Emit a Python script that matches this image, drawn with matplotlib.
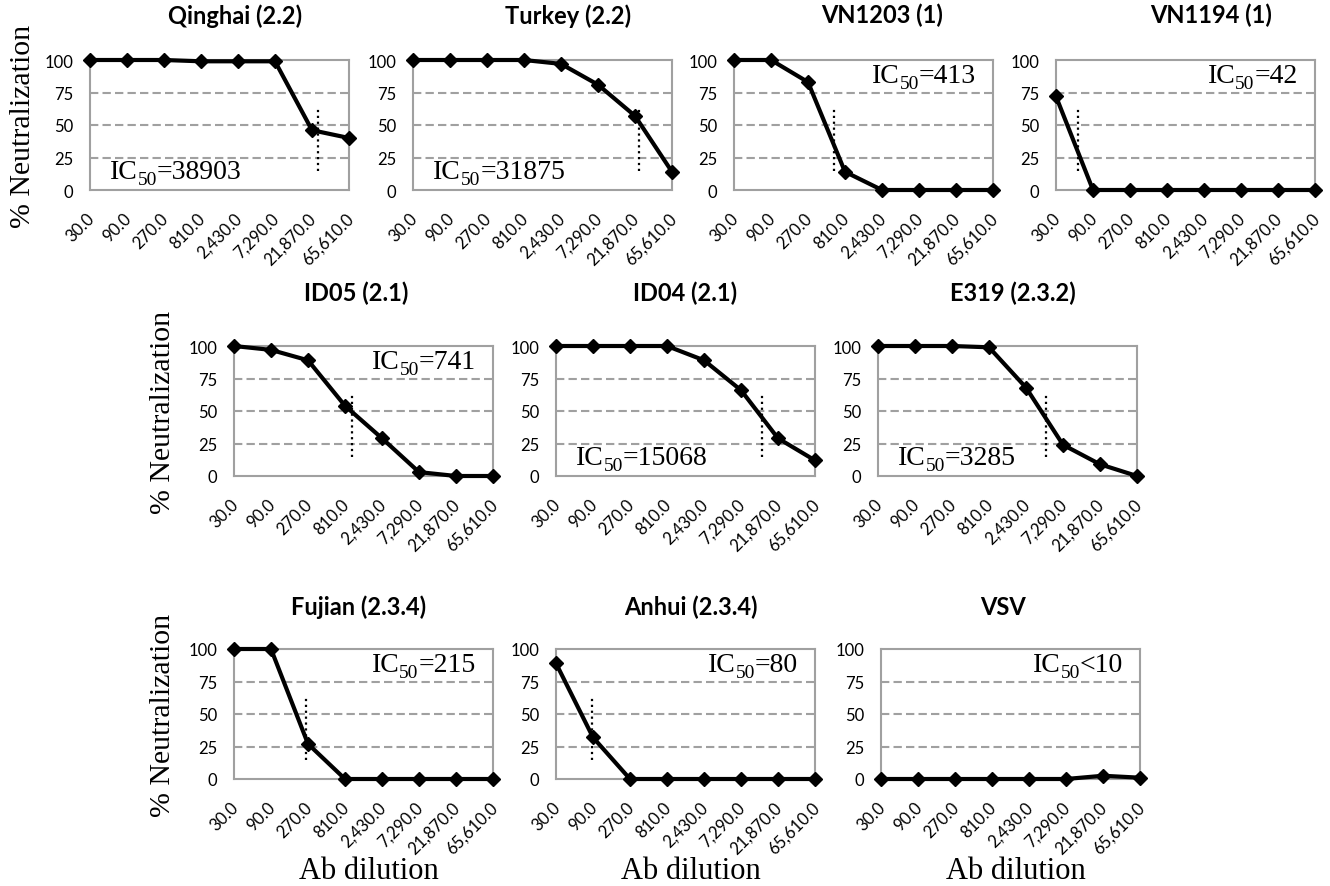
import numpy as np
import matplotlib.pyplot as plt
from matplotlib.transforms import ScaledTranslation

plt.rcParams['font.family'] = 'Lato'

# data
dilutions = ['30.0', '90.0', '270.0', '810.0', '2,430.0', '7,290.0', '21,870.0', '65,610.0']
titles = ['Qinghai (2.2)', 'Turkey (2.2)', 'VN1203 (1)', 'VN1194 (1)',
          'ID05 (2.1)', 'ID04 (2.1)', 'E319 (2.3.2)',
          'Fujian (2.3.4)', 'Anhui (2.3.4)', 'VSV']

qinghai = [100, 100, 100, 99, 99, 99, 46, 40]
turkey = [100, 100, 100, 100, 97, 81, 57, 14]
vn1203 = [100, 100, 83, 14, 0, 0, 0, 0]
vn1194 = [72, 0, 0, 0, 0, 0, 0, 0]
id05 = [100, 97, 89, 54, 29, 3, 0, 0]
id04 = [100, 100, 100, 100, 89, 66, 29, 12]
e319 = [100, 100, 100, 99, 68, 24, 9, 0]
fujian = [100, 100, 27, 0, 0, 0, 0, 0]
anhui = [89, 32, 0, 0, 0, 0, 0, 0]
vsv = [0, 0, 0, 0, 0, 0, 2.5, 1]
series = [qinghai, turkey, vn1203, vn1194, id05, id04, e319, fujian, anhui, vsv]

ic50_text = ['=38903', '=31875', '=413', '=42', '=741', '=15068', '=3285', '=215', '=80', '<10']
# dotted IC50 marks, in dilution-step units
ic50_mark = [6.16, 6.11, 2.70, 0.60, 3.19, 5.57, 4.54, 1.95, 0.98, None]

# layout in pixels of the 1330x887 figure
W, H = 1330, 887
AW, AH = 259, 130
lefts = [90, 413, 734, 1056, 234, 556, 878, 234, 556, 881]
tops = [61, 61, 61, 61, 347, 347, 347, 650, 650, 650]
rows = [0, 0, 0, 0, 1, 1, 1, 2, 2, 2]
title_x = [0.56, 0.60, 0.57, 0.60, 0.47, 0.50, 0.52, 0.48, 0.52, 0.47]
title_pad = [27, 33, 25]
ic50_top = [False, False, True, True, True, False, False, True, True, True]

SERIF = 'Liberation Serif'


def ic50_label(ax, rest, top):
    # IC + lowered 50 + rest, chained so the subscript sits like the original
    if top:
        t3 = ax.text(1 - 17 / AW, 0.83, rest, transform=ax.transAxes,
                     ha='right', va='baseline', family=SERIF, fontsize=20)
        t2 = ax.annotate('50', xy=(0, 0), xycoords=t3, xytext=(0, -3),
                         textcoords='offset points', ha='right', va='bottom',
                         family=SERIF, fontsize=14)
        ax.annotate('IC', xy=(0, 0), xycoords=(t2, t3), ha='right',
                    va='bottom', family=SERIF, fontsize=20)
    else:
        t1 = ax.text(20 / AW, 0.09, 'IC', transform=ax.transAxes,
                     ha='left', va='baseline', family=SERIF, fontsize=20)
        t2 = ax.annotate('50', xy=(1, 0), xycoords=t1, xytext=(0, -3),
                         textcoords='offset points', ha='left', va='bottom',
                         family=SERIF, fontsize=14)
        ax.annotate(rest, xy=(1, 0), xycoords=(t2, t1), ha='left',
                    va='bottom', family=SERIF, fontsize=20)


fig = plt.figure(figsize=(W / 100, H / 100), dpi=100)
shift = ScaledTranslation(-4 / 100, 0, fig.dpi_scale_trans)
x = np.arange(len(dilutions))

for i in range(len(series)):
    ax = fig.add_axes([lefts[i] / W, 1 - (tops[i] + AH) / H, AW / W, AH / H])
    ax.plot(x, series[i], color='black', lw=3, marker='D', ms=7.5,
            clip_on=False, zorder=5)
    if ic50_mark[i] is not None:
        ax.plot([ic50_mark[i], ic50_mark[i]], [15, 62], color='black',
                lw=1.6, ls=':', zorder=4)
    ax.set_xlim(0, len(dilutions) - 1)
    ax.set_ylim(0, 100)

    ax.set_yticks([0, 25, 50, 75, 100])
    ax.set_xticks(x)
    ax.tick_params(axis='x', length=0, pad=14)
    ax.tick_params(axis='y', length=0, pad=12, labelsize=12)
    ax.set_xticklabels(dilutions, rotation=45, ha='right', va='top',
                       rotation_mode='anchor', fontsize=12)
    for lab in ax.get_xticklabels():
        lab.set_transform(lab.get_transform() + shift)

    ax.set_axisbelow(True)
    ax.grid(axis='y', color='#a0a0a0', lw=1.5, ls=(0, (4, 2)))
    gl = ax.get_ygridlines()
    gl[0].set_visible(False)
    gl[-1].set_visible(False)
    for sp in ax.spines.values():
        sp.set_color('#a0a0a0')
        sp.set_linewidth(1.5)

    ax.set_title(titles[i], x=title_x[i], pad=title_pad[rows[i]],
                 fontweight='bold', fontsize=17)

    ic50_label(ax, ic50_text[i], ic50_top[i])

    if i in (0, 4, 7):
        ax.set_ylabel('% Neutralization', family=SERIF, fontsize=21.5)
        ax.yaxis.set_label_coords(-0.21 if i == 0 else -0.225, 0.5)
    if rows[i] == 2:
        ax.set_xlabel('Ab dilution', family=SERIF, fontsize=22)
        ax.xaxis.set_label_coords(0.52, -0.59)

fig.savefig('out.png', dpi=100)
